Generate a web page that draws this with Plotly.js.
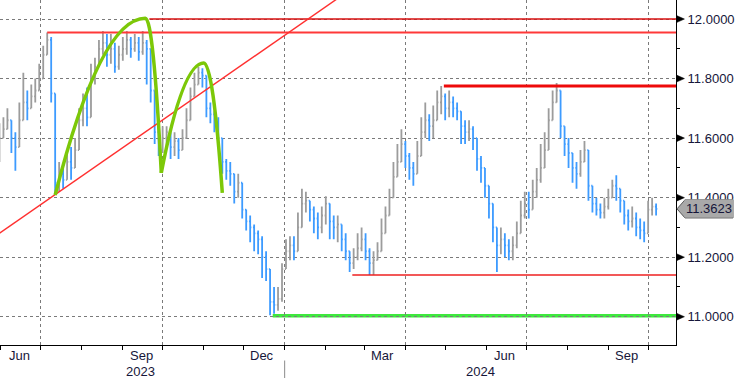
<!DOCTYPE html>
<html>
<head>
<meta charset="utf-8">
<script src="https://cdn.plot.ly/plotly-3.0.1.min.js"></script>
<style>html,body{margin:0;padding:0;background:#fff;}#chart{width:735px;height:378px;}</style>
</head>
<body>
<div id="chart"></div>
<script>
// ---- data (one bar per ~3 calendar days) ----
const startDate = '2023-05-31';
const stepDays = 3;
const closes = [
11.60,11.63,11.66,11.60,11.57,11.66,11.72,11.70,11.74,11.76,
11.80,11.88,11.93,11.75,11.45,11.48,11.46,11.52,11.50,11.56,
11.66,11.70,11.67,11.80,11.84,11.90,11.92,11.88,11.90,11.84,
11.88,11.90,11.93,11.90,11.92,11.89,11.92,11.90,11.76,11.62,
11.56,11.60,11.62,11.57,11.59,11.56,11.60,11.66,11.74,11.78,
11.82,11.81,11.70,11.68,11.65,11.60,11.52,11.49,11.48,11.42,
11.45,11.36,11.32,11.30,11.28,11.26,11.20,11.16,11.05,11.04,
11.06,11.16,11.22,11.24,11.22,11.30,11.38,11.39,11.36,11.33,
11.30,11.34,11.38,11.32,11.30,11.31,11.26,11.22,11.18,11.20,
11.23,11.26,11.22,11.18,11.19,11.22,11.28,11.34,11.40,11.47,
11.52,11.58,11.54,11.50,11.48,11.54,11.62,11.66,11.64,11.66,
11.72,11.74,11.70,11.72,11.70,11.69,11.64,11.62,11.63,11.60,
11.53,11.50,11.44,11.38,11.30,11.24,11.26,11.24,11.22,11.24,
11.28,11.34,11.38,11.36,11.42,11.46,11.50,11.56,11.66,11.72,
11.76,11.64,11.58,11.55,11.50,11.48,11.52,11.56,11.44,11.38,
11.36,11.35,11.37,11.40,11.44,11.43,11.39,11.34,11.32,11.33,
11.30,11.29,11.28,11.36,11.37,11.3623];
const highs = [
11.65,11.67,11.70,11.66,11.62,11.72,11.82,11.76,11.78,11.80,
11.85,11.91,11.955,11.94,11.75,11.52,11.50,11.55,11.57,11.60,
11.70,11.75,11.77,11.85,11.87,11.93,11.96,11.95,11.95,11.92,
11.91,11.94,11.96,11.94,11.95,11.94,11.96,11.93,11.90,11.76,
11.64,11.64,11.64,11.62,11.62,11.60,11.63,11.70,11.77,11.82,
11.84,11.835,11.80,11.72,11.69,11.67,11.60,11.53,11.52,11.48,
11.48,11.44,11.36,11.34,11.31,11.29,11.27,11.22,11.16,11.10,
11.10,11.18,11.26,11.27,11.27,11.35,11.43,11.42,11.39,11.37,
11.35,11.37,11.405,11.36,11.34,11.34,11.31,11.28,11.22,11.23,
11.28,11.30,11.28,11.23,11.22,11.25,11.33,11.37,11.43,11.52,
11.58,11.63,11.59,11.55,11.52,11.59,11.67,11.72,11.68,11.71,
11.76,11.775,11.75,11.76,11.74,11.72,11.68,11.66,11.66,11.64,
11.57,11.54,11.48,11.43,11.36,11.28,11.30,11.28,11.26,11.27,
11.32,11.39,11.42,11.42,11.46,11.50,11.58,11.62,11.70,11.76,
11.785,11.74,11.62,11.60,11.54,11.52,11.56,11.59,11.50,11.42,
11.40,11.38,11.40,11.43,11.46,11.475,11.42,11.38,11.36,11.37,
11.35,11.33,11.32,11.39,11.40,11.38];
const lows = [
11.52,11.60,11.63,11.55,11.49,11.62,11.66,11.66,11.70,11.72,
11.77,11.84,11.88,11.72,11.41,11.42,11.43,11.46,11.46,11.50,
11.60,11.64,11.64,11.75,11.78,11.86,11.88,11.84,11.85,11.82,
11.83,11.86,11.88,11.87,11.89,11.86,11.88,11.78,11.72,11.58,
11.54,11.55,11.57,11.53,11.54,11.53,11.56,11.60,11.66,11.74,
11.78,11.77,11.67,11.65,11.62,11.58,11.48,11.46,11.44,11.38,
11.40,11.33,11.29,11.25,11.22,11.21,11.13,11.12,11.005,11.01,
11.02,11.05,11.18,11.19,11.19,11.25,11.32,11.35,11.32,11.28,
11.26,11.28,11.31,11.26,11.26,11.25,11.22,11.19,11.15,11.16,
11.19,11.22,11.19,11.14,11.14,11.19,11.24,11.29,11.35,11.43,
11.48,11.52,11.50,11.46,11.44,11.48,11.56,11.60,11.59,11.60,
11.66,11.68,11.66,11.67,11.67,11.66,11.58,11.58,11.59,11.56,
11.49,11.45,11.40,11.33,11.25,11.15,11.21,11.20,11.19,11.19,
11.23,11.30,11.33,11.33,11.37,11.40,11.45,11.52,11.60,11.67,
11.72,11.60,11.54,11.50,11.45,11.43,11.47,11.52,11.39,11.35,
11.34,11.33,11.33,11.36,11.40,11.39,11.35,11.31,11.29,11.30,
11.27,11.26,11.25,11.30,11.34,11.34];
const firstOpen = 11.58;

// axis labels
const yTickVals = [11.0, 11.2, 11.4, 11.6, 11.8, 12.0];
const monthLabels = ['Jun', 'Sep', 'Dec', 'Mar', 'Jun', 'Sep'];
const monthLabelDates = ['2023-06-15', '2023-09-15', '2023-12-15', '2024-03-15', '2024-06-15', '2024-09-15'];
const quarterLines = ['2023-07-01', '2023-10-01', '2024-01-01', '2024-04-01', '2024-07-01', '2024-10-01'];
const yearLabels = ['2023', '2024'];
const yearLabelDates = ['2023-09-14', '2024-05-28'];
const yearBreak = '2024-01-01';

// ---- build OHLC ----
const dates = [];
const d0 = new Date(startDate + 'T00:00:00Z');
for (let i = 0; i < closes.length; i++) {
  const d = new Date(d0.getTime() + i * stepDays * 86400000);
  dates.push(d.toISOString().slice(0, 10));
}
const opens = closes.map((c, i) => i === 0 ? firstOpen : closes[i - 1]);
const hi = highs.map((h, i) => Math.max(h, opens[i], closes[i]));
const lo = lows.map((l, i) => Math.min(l, opens[i], closes[i]));

const trace = {
  type: 'ohlc', x: dates, open: opens, high: hi, low: lo, close: closes,
  increasing: {line: {color: '#9c9c9c', width: 1.8}},
  decreasing: {line: {color: '#3d9bff', width: 1.8}},
  tickwidth: 0.3, hoverinfo: 'skip', showlegend: false
};

const txtColor = '#16163a';
const shapes = [];
// horizontal resistance / support lines
shapes.push({type: 'line', xref: 'x', yref: 'y', x0: '2023-09-21', x1: '2024-10-25', y0: 12.0, y1: 12.0, line: {color: '#d81010', width: 1.6}, layer: 'above'});
shapes.push({type: 'line', xref: 'x', yref: 'y', x0: '2023-07-06', x1: '2024-10-25', y0: 11.955, y1: 11.955, line: {color: '#ff3838', width: 2}, layer: 'above'});
shapes.push({type: 'line', xref: 'x', yref: 'y', x0: '2024-04-30', x1: '2024-10-25', y0: 11.775, y1: 11.775, line: {color: '#ee0a0a', width: 3}, layer: 'above'});
shapes.push({type: 'line', xref: 'x', yref: 'y', x0: '2024-02-21', x1: '2024-10-25', y0: 11.14, y1: 11.14, line: {color: '#ee2020', width: 1.4}, layer: 'above'});
shapes.push({type: 'line', xref: 'x', yref: 'y', x0: '2023-12-23', x1: '2024-10-25', y0: 11.003, y1: 11.003, line: {color: '#3ee83e', width: 3.5}, layer: 'below'});
// rising trend line
shapes.push({type: 'line', xref: 'x', yref: 'y', x0: '2023-05-25', y0: 11.262, x1: '2024-03-10', y1: 12.159, line: {color: '#ff3030', width: 1.4}, layer: 'above'});
// green arcs
shapes.push({type: 'path', xref: 'x', yref: 'y', layer: 'above',
  path: 'M 2023-07-12,11.409 Q 2023-08-15,12.003 2023-09-18,12.003 Q 2023-09-24,12.003 2023-09-30,11.483',
  line: {color: '#7cc808', width: 3.5}});
shapes.push({type: 'path', xref: 'x', yref: 'y', layer: 'above',
  path: 'M 2023-09-30,11.483 Q 2023-10-16,11.852 2023-11-01,11.852 Q 2023-11-08,11.852 2023-11-15,11.416',
  line: {color: '#7cc808', width: 3.5}});
// axis tick triangles on the right axis
yTickVals.forEach(v => {
  shapes.push({type: 'path', xref: 'paper', yref: 'y', layer: 'above',
    path: `M 1.0015,${v - 0.011} L 1.0125,${v} L 1.0015,${v + 0.011} Z`,
    fillcolor: '#000', line: {color: '#000', width: 0.5}});
});
// last price tag
const last = closes[closes.length - 1];
shapes.push({type: 'path', xref: 'paper', yref: 'y', layer: 'above',
  path: `M 1.0015,${last} L 1.0133,${last + 0.0305} L 1.0843,${last + 0.0305} L 1.0843,${last - 0.0305} L 1.0133,${last - 0.0305} Z`,
  fillcolor: '#a9a9a9', line: {color: '#5a5a5a', width: 1}});
// year separator
shapes.push({type: 'line', xref: 'x', yref: 'paper', x0: yearBreak, x1: yearBreak, y0: -0.045, y1: -0.1, line: {color: '#8a8a8a', width: 1}});

const annotations = [];
monthLabels.forEach((t, i) => annotations.push({
  text: t, x: monthLabelDates[i], xref: 'x', y: -0.029, yref: 'paper', showarrow: false,
  xanchor: 'center', yanchor: 'middle', font: {family: 'Liberation Sans, Arial, sans-serif', size: 13, color: txtColor}
}));
yearLabels.forEach((t, i) => annotations.push({
  text: t, x: yearLabelDates[i], xref: 'x', y: -0.076, yref: 'paper', showarrow: false,
  xanchor: 'center', yanchor: 'middle', font: {family: 'Liberation Sans, Arial, sans-serif', size: 13, color: txtColor}
}));
annotations.push({text: last.toFixed(4), x: 1.0488, xref: 'paper', y: last, yref: 'y', showarrow: false,
  xanchor: 'center', yanchor: 'middle', bgcolor: '#a9a9a9',
  font: {family: 'Liberation Sans, Arial, sans-serif', size: 13, color: txtColor}});

const layout = {
  width: 735, height: 378,
  margin: {l: 0, r: 59, t: 0, b: 33, pad: 0},
  paper_bgcolor: '#ffffff', plot_bgcolor: '#ffffff',
  showlegend: false, hovermode: false,
  xaxis: {
    type: 'date', range: ['2023-05-31 10:00', '2024-10-22'],
    rangeslider: {visible: false},
    tickvals: quarterLines, showticklabels: false,
    ticks: 'outside', ticklen: 4, tickcolor: '#000', tickwidth: 1,
    showgrid: true, gridcolor: '#7a7a7a', griddash: 'dot', gridwidth: 1,
    showline: true, linecolor: '#000', linewidth: 1, zeroline: false,
    minor: {dtick: 'M1', tick0: '2023-06-01', ticks: 'outside', ticklen: 4, tickcolor: '#000', showgrid: false},
    fixedrange: true
  },
  yaxis: {
    side: 'right', range: [10.905, 12.064],
    tickvals: yTickVals, ticktext: yTickVals.map(v => v.toFixed(4)),
    ticks: 'outside', ticklen: 8, tickcolor: 'rgba(0,0,0,0)',
    tickfont: {family: 'Liberation Sans, Arial, sans-serif', size: 13, color: txtColor},
    showgrid: true, gridcolor: '#7a7a7a', griddash: 'dot', gridwidth: 1,
    showline: true, linecolor: '#000', linewidth: 1, zeroline: false,
    minor: {dtick: 0.1, tick0: 11.1, ticks: 'outside', ticklen: 3, tickcolor: '#000', showgrid: false},
    fixedrange: true
  },
  shapes: shapes,
  annotations: annotations
};

Plotly.newPlot('chart', [trace], layout, {staticPlot: true, displayModeBar: false});
</script>
</body>
</html>
